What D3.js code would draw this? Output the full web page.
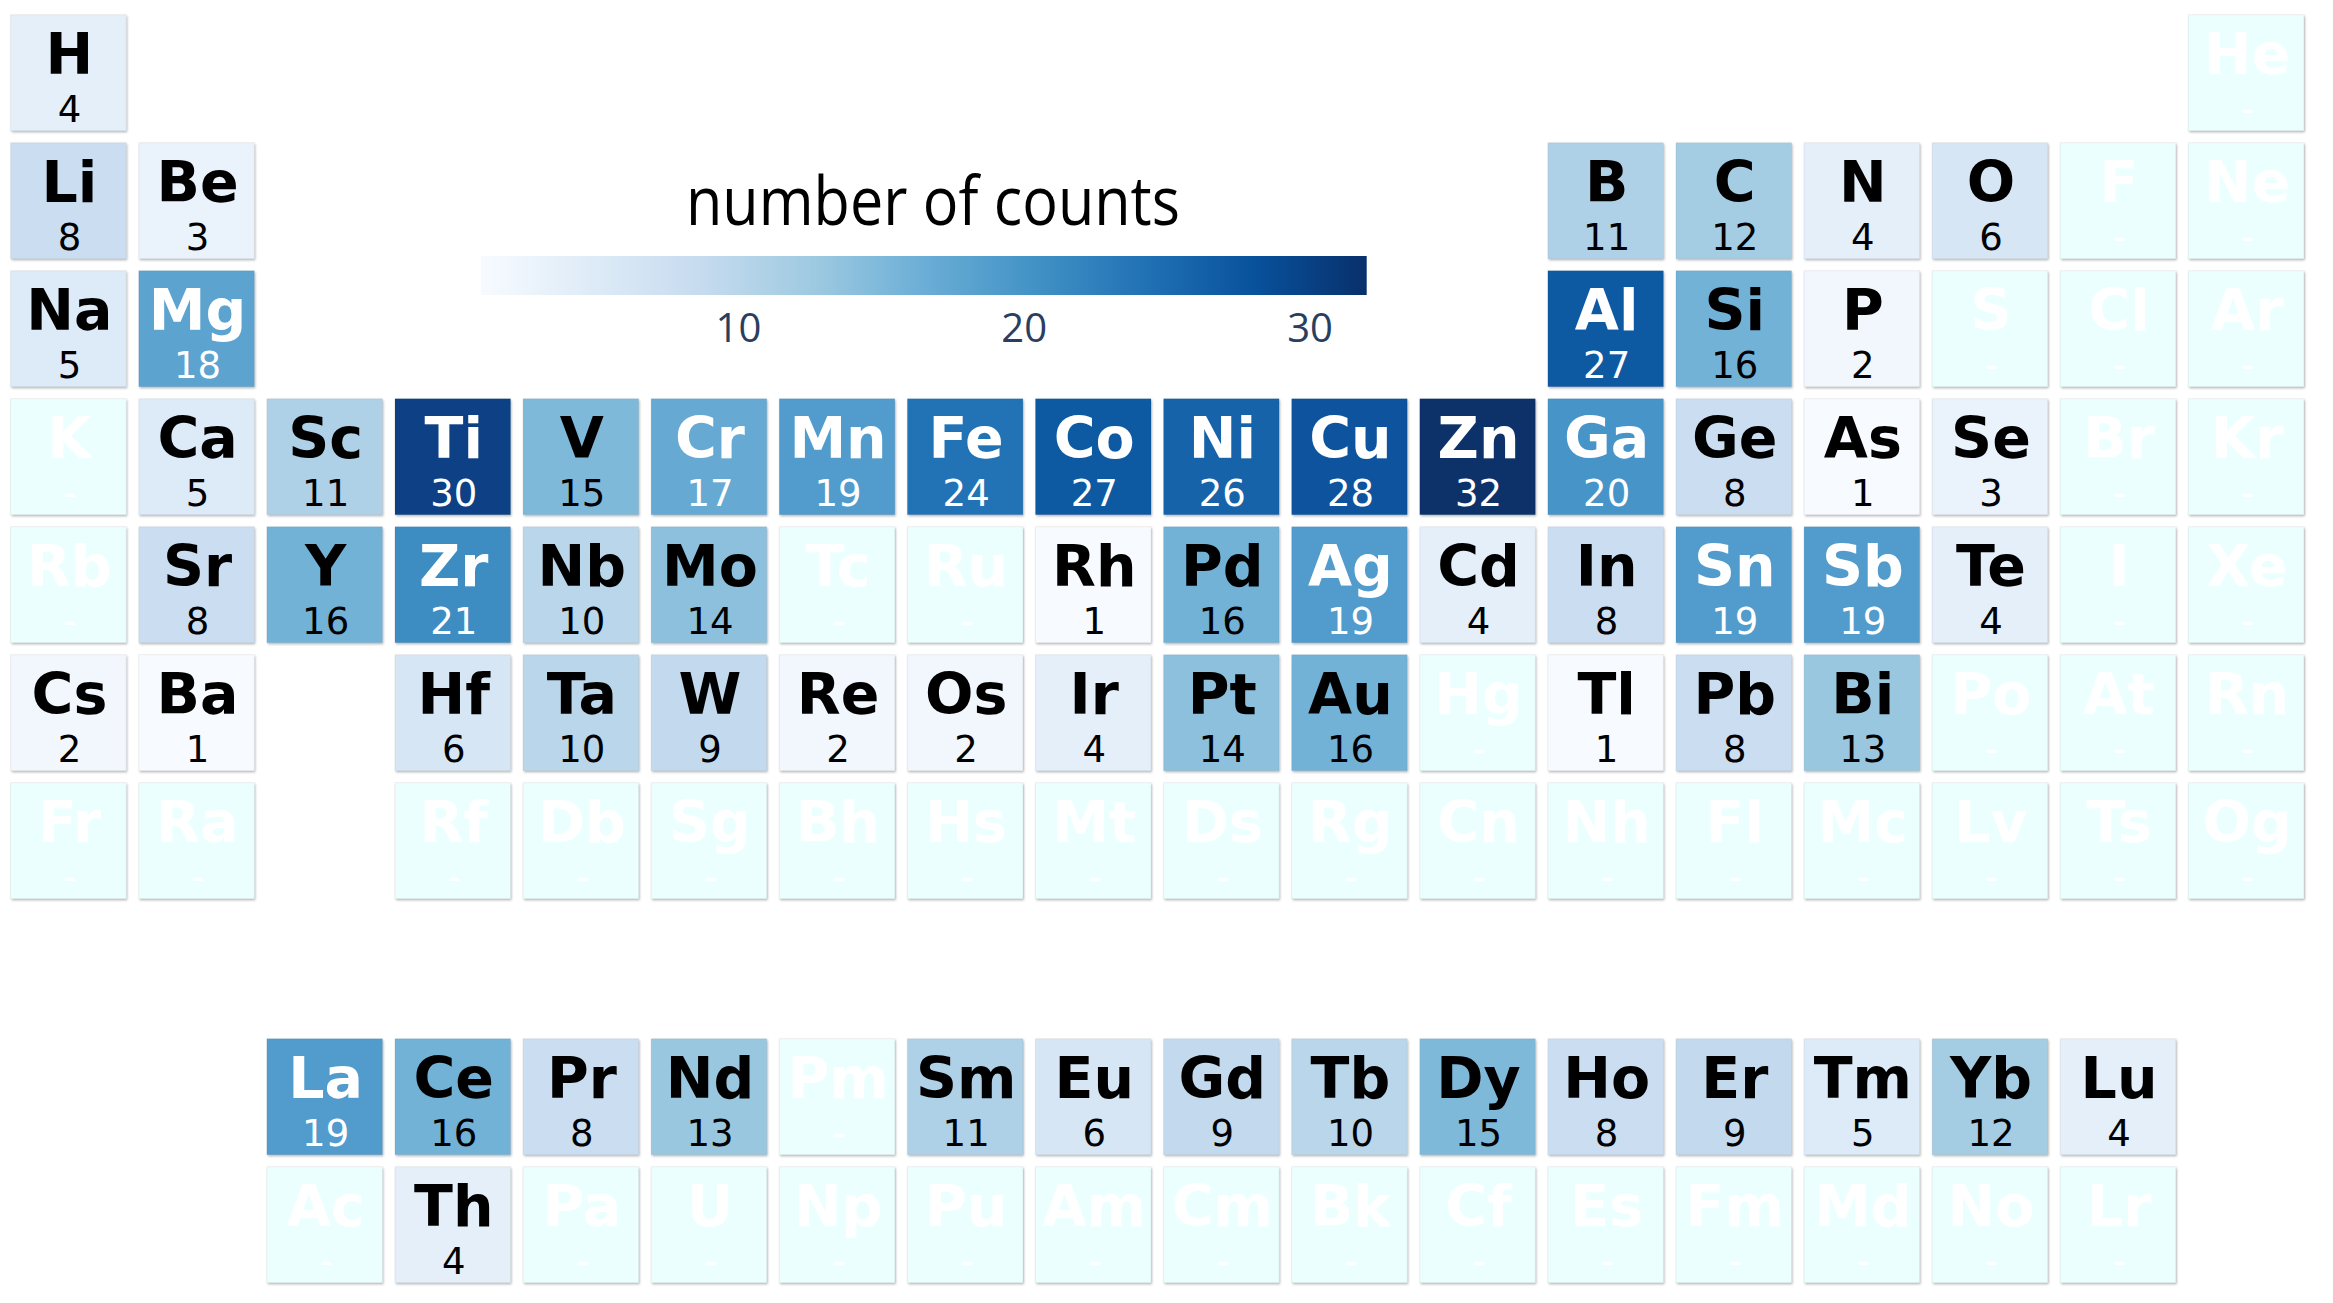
<!DOCTYPE html>
<html>
<head>
<meta charset="utf-8">
<script src="https://cdn.jsdelivr.net/npm/d3@7"></script>
<style>
  html, body { margin: 0; padding: 0; background: #fff; }
  svg { display: block; }
</style>
</head>
<body>
<svg id="chart" width="2333" height="1303"></svg>
<script>
// ---- DATA ----
const symbols = ["H","He","Li","Be","B","C","N","O","F","Ne","Na","Mg","Al","Si","P","S","Cl","Ar",
  "K","Ca","Sc","Ti","V","Cr","Mn","Fe","Co","Ni","Cu","Zn","Ga","Ge","As","Se","Br","Kr",
  "Rb","Sr","Y","Zr","Nb","Mo","Tc","Ru","Rh","Pd","Ag","Cd","In","Sn","Sb","Te","I","Xe",
  "Cs","Ba","La","Ce","Pr","Nd","Pm","Sm","Eu","Gd","Tb","Dy","Ho","Er","Tm","Yb","Lu",
  "Hf","Ta","W","Re","Os","Ir","Pt","Au","Hg","Tl","Pb","Bi","Po","At","Rn",
  "Fr","Ra","Ac","Th","Pa","U","Np","Pu","Am","Cm","Bk","Cf","Es","Fm","Md","No","Lr",
  "Rf","Db","Sg","Bh","Hs","Mt","Ds","Rg","Cn","Nh","Fl","Mc","Lv","Ts","Og"];

// number of counts per element (null = no data)
const counts = [4,null,8,3,11,12,4,6,null,null,5,18,27,16,2,null,null,null,
  null,5,11,30,15,17,19,24,27,26,28,32,20,8,1,3,null,null,
  null,8,16,21,10,14,null,null,1,16,19,4,8,19,19,4,null,null,
  2,1,19,16,8,13,null,11,6,9,10,15,8,9,5,12,4,
  6,10,9,2,2,4,14,16,null,1,8,13,null,null,null,
  null,null,null,4,null,null,null,null,null,null,null,null,null,null,null,null,null,
  null,null,null,null,null,null,null,null,null,null,null,null,null,null,null];

// table group (column) of each element
const groups = [1,18,1,2,13,14,15,16,17,18,1,2,13,14,15,16,17,18,
  1,2,3,4,5,6,7,8,9,10,11,12,13,14,15,16,17,18,
  1,2,3,4,5,6,7,8,9,10,11,12,13,14,15,16,17,18,
  1,2,3,4,5,6,7,8,9,10,11,12,13,14,15,16,17,
  4,5,6,7,8,9,10,11,12,13,14,15,16,17,18,
  1,2,3,4,5,6,7,8,9,10,11,12,13,14,15,16,17,
  4,5,6,7,8,9,10,11,12,13,14,15,16,17,18];

// table row of each element (1-7 periods, 9 = lanthanides, 10 = actinides)
const rows = [1,1,2,2,2,2,2,2,2,2,3,3,3,3,3,3,3,3,
  4,4,4,4,4,4,4,4,4,4,4,4,4,4,4,4,4,4,
  5,5,5,5,5,5,5,5,5,5,5,5,5,5,5,5,5,5,
  6,6,9,9,9,9,9,9,9,9,9,9,9,9,9,9,9,
  6,6,6,6,6,6,6,6,6,6,6,6,6,6,6,
  7,7,10,10,10,10,10,10,10,10,10,10,10,10,10,10,10,
  7,7,7,7,7,7,7,7,7,7,7,7,7,7,7];

const colorbarTicks = [10, 20, 30];
const colorbarTitle = "number of counts";

// Plotly "Blues" colorscale
const bluesStops = [0, 0.125, 0.25, 0.375, 0.5, 0.625, 0.75, 0.875, 1];
const bluesColors = ["rgb(247,251,255)","rgb(222,235,247)","rgb(198,219,239)","rgb(158,202,225)",
  "rgb(107,174,214)","rgb(66,146,198)","rgb(33,113,181)","rgb(8,81,156)","rgb(8,48,107)"];
const missingColor = "#ecffff";

// ---- CHART ----
const svg = d3.select("#chart");
const data = symbols.map((s, i) => ({ sym: s, v: counts[i], g: groups[i], r: rows[i] }));

const x = d3.scaleBand().domain(d3.range(1, 19)).range([4.4, 2310.2])
  .paddingInner(0.098).paddingOuter(0.049);
const y = d3.scaleBand().domain(d3.range(1, 11)).range([8.7, 1288.7])
  .paddingInner(0.094).paddingOuter(0.047);

const vals = counts.filter(v => v != null);
const vmin = d3.min(vals), vmax = d3.max(vals);
const norm = d3.scaleLinear().domain([vmin, vmax]).range([0, 1]);
const blues = d3.scaleLinear().domain(bluesStops).range(bluesColors).interpolate(d3.interpolateRgb);
const color = v => v == null ? missingColor : blues(norm(v));
const textColor = v => {
  if (v == null) return "#ffffff";
  const c = d3.rgb(color(v));
  const lum = 0.299 * c.r + 0.587 * c.g + 0.114 * c.b;
  return lum < 158 ? "#ffffff" : "#000000";
};

const defs = svg.append("defs");
const f = defs.append("filter").attr("id", "shadow")
  .attr("x", "-10%").attr("y", "-10%").attr("width", "125%").attr("height", "125%");
f.append("feDropShadow").attr("dx", 1).attr("dy", 1.5).attr("stdDeviation", 1.2)
  .attr("flood-color", "#000").attr("flood-opacity", 0.28);

const cells = svg.append("g").selectAll("g.cell").data(data).join("g")
  .attr("class", "cell")
  .attr("transform", d => `translate(${x(d.g)},${y(d.r)})`);

cells.append("rect")
  .attr("width", x.bandwidth()).attr("height", y.bandwidth())
  .attr("fill", d => color(d.v))
  .attr("stroke", "rgba(0,0,0,0.06)").attr("stroke-width", 1)
  .attr("filter", "url(#shadow)");

cells.append("text")
  .attr("x", x.bandwidth() / 2 + 1).attr("y", 59.5)
  .attr("text-anchor", "middle")
  .attr("font-family", "'DejaVu Sans', Verdana, sans-serif")
  .attr("font-weight", "bold").attr("font-size", 57)
  .attr("fill", d => textColor(d.v))
  .text(d => d.sym);

cells.append("text")
  .attr("x", x.bandwidth() / 2 + 1).attr("y", 107.5)
  .attr("text-anchor", "middle")
  .attr("font-family", "'DejaVu Sans', Verdana, sans-serif")
  .attr("font-size", 37)
  .attr("fill", d => textColor(d.v))
  .text(d => d.v == null ? "-" : d.v);

// ---- COLORBAR ----
const cbx = d3.scaleLinear().domain([vmin, vmax]).range([480.7, 1366.7]);
const grad = defs.append("linearGradient").attr("id", "cbgrad")
  .attr("x1", "0%").attr("x2", "100%").attr("y1", "0%").attr("y2", "0%");
grad.selectAll("stop").data(bluesStops).join("stop")
  .attr("offset", d => (d * 100) + "%")
  .attr("stop-color", (d, i) => bluesColors[i]);

svg.append("rect")
  .attr("x", cbx(vmin)).attr("y", 256)
  .attr("width", cbx(vmax) - cbx(vmin)).attr("height", 39)
  .attr("fill", "url(#cbgrad)");

const axis = d3.axisBottom(cbx).tickValues(colorbarTicks).tickSize(0).tickPadding(0);
const ax = svg.append("g").attr("transform", "translate(0,295)").call(axis);
ax.select(".domain").remove();
ax.selectAll("text")
  .attr("y", 47).attr("dy", 0)
  .attr("font-family", "'Open Sans', sans-serif")
  .attr("font-size", 40)
  .attr("fill", "#2a3f5f");

svg.append("text")
  .attr("x", 933).attr("y", 225)
  .attr("text-anchor", "middle")
  .attr("font-family", "'Open Sans', sans-serif")
  .attr("font-size", 67)
  .attr("fill", "#000")
  .attr("textLength", 494).attr("lengthAdjust", "spacingAndGlyphs")
  .text(colorbarTitle);
</script>
</body>
</html>
